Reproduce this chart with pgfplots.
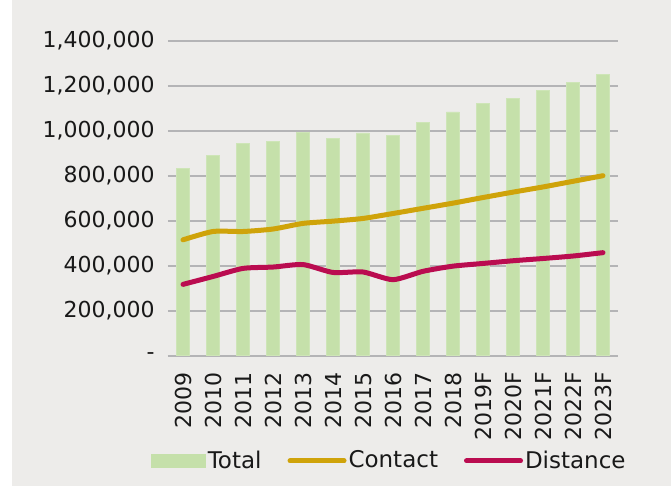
\documentclass[border=0pt]{standalone}
\usepackage{fontspec}
\setmainfont{DejaVu Sans}
\usepackage{pgfplots}
\pgfplotsset{compat=1.18}

\definecolor{bg}{HTML}{EDECEA}
\definecolor{totalg}{HTML}{C5E0AA}
\definecolor{contactc}{HTML}{CFA30A}
\definecolor{distc}{HTML}{BA0C50}
\definecolor{gridc}{HTML}{B4B4B6}

\pgfplotsset{
  lineleg/.style={legend image code/.code={\draw[##1] (0bp,0bp) -- (27bp,0bp);}},
  barleg/.style={legend image code/.code={\fill[totalg] (0bp,-3.25bp) rectangle (27bp,3.25bp);}},
}

\begin{document}
\begin{tikzpicture}
\path[use as bounding box] (-84bp,-65.15bp) rectangle (251.5bp,177.85bp);
\fill[white] (-84bp,-65.15bp) rectangle (251.5bp,177.85bp);
\fill[bg] (-78bp,-65.15bp) rectangle (251.5bp,177.85bp);
\begin{axis}[
  at={(0,0)}, anchor=south west,
  scale only axis, width=225bp, height=157.5bp,
  xmin=-0.5, xmax=14.5, ymin=0, ymax=1400000,
  scaled y ticks=false,
  axis x line*=bottom, axis y line*=left,
  x axis line style={draw=gridc, line width=0.8bp, -},
  y axis line style={draw=none},
  major tick length=0pt,
  ymajorgrids, grid style={draw=gridc, line width=0.8bp},
  xtick={0,...,14},
  xticklabels={2009,2010,2011,2012,2013,2014,2015,2016,2017,2018,2019F,2020F,2021F,2022F,2023F},
  ytick={0,200000,400000,600000,800000,1000000,1200000,1400000},
  yticklabels={{-\hspace{6.5bp}},{200,000},{400,000},{600,000},{800,000},{1,000,000},{1,200,000},{1,400,000}},
  tick label style={font=\fontsize{11bp}{13bp}\selectfont, text=black!90},
  xticklabel style={rotate=90, anchor=east, inner sep=0pt},
  xticklabel shift=8bp,
  yticklabel style={anchor=east, inner sep=0pt},
  yticklabel shift=6.5bp,
  legend columns=3,
  legend style={at={(0.492,-0.334)}, anchor=center, draw=none, fill=none,
    font=\fontsize{11.5bp}{13bp}\selectfont,
    nodes={inner sep=1bp, text=black!90},
    /tikz/every even column/.append style={column sep=12bp}},
  legend cell align=left,
]
\addplot[ybar, bar width=6.5bp, fill=totalg, draw=totalg!85!white, line width=0.3bp, barleg]
  coordinates {(0,832000) (1,892000) (2,942000) (3,952000) (4,992000) (5,967000)
    (6,990000) (7,980000) (8,1037000) (9,1084000) (10,1120000) (11,1144000)
    (12,1180000) (13,1215000) (14,1251000)};
\addlegendentry{Total}
\addplot[contactc, line width=2.5bp, line cap=round, line join=round, smooth, tension=0.4, mark=none, lineleg]
  coordinates {(0,515000) (1,552000) (2,552000) (3,563000) (4,588000) (5,598000)
    (6,610000) (7,632000) (8,655000) (9,678000) (10,703000) (11,727000)
    (12,750000) (13,775000) (14,800000)};
\addlegendentry{Contact}
\addplot[distc, line width=2.5bp, line cap=round, line join=round, smooth, tension=0.4, mark=none, lineleg]
  coordinates {(0,317000) (1,352000) (2,388000) (3,394000) (4,405000) (5,370000)
    (6,372000) (7,338000) (8,375000) (9,398000) (10,410000) (11,422000)
    (12,432000) (13,443000) (14,458000)};
\addlegendentry{Distance}
\end{axis}
\end{tikzpicture}
\end{document}
